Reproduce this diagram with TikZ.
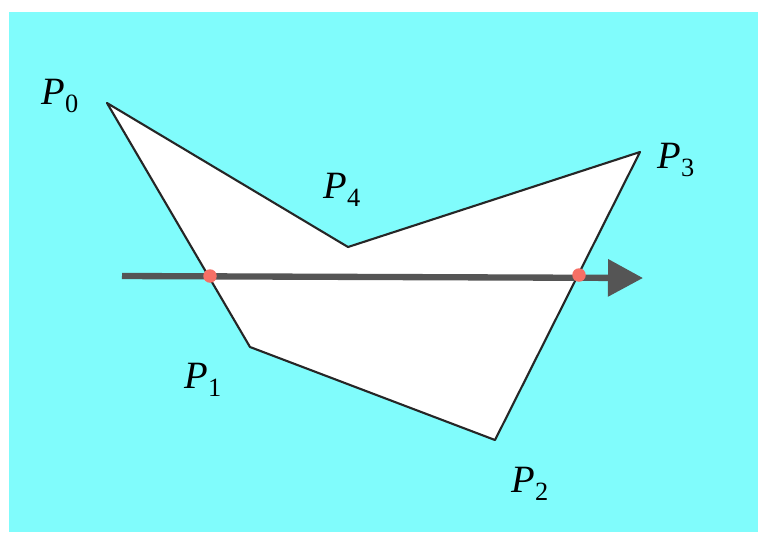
\documentclass[tikz,border=0pt]{standalone}
\usepackage{fontspec}
\setmainfont{Liberation Serif}
\usepackage{tikz}
\usetikzlibrary{arrows.meta}
\definecolor{bgcyan}{RGB}{128,252,252}
\definecolor{raygray}{RGB}{85,85,85}
\definecolor{hitred}{RGB}{246,112,102}
\newcommand{\vlabel}[1]{\textit{P}\raisebox{-0.45ex}{\fontsize{15}{17}\selectfont #1}}

\begin{document}
\begin{tikzpicture}[
    x=0.02cm, y=-0.02cm,
    vertex/.style={inner sep=0pt, font=\fontsize{22}{26}\selectfont},
    polygon/.style={draw=black!85, fill=white, line width=1.2pt, line join=round},
    ray/.style={draw=raygray, line width=3.6pt, -{Triangle[length=0.7cm, width=0.72cm]}},
    hit/.style={circle, fill=hitred, inner sep=0pt, minimum size=0.27cm}
]
\useasboundingbox (0,0) rectangle (758,532);
\fill[white] (0,0) rectangle (758,532);
\fill[bgcyan] (9,12) rectangle (758,532);

\coordinate (p0) at (107,103);
\coordinate (p1) at (250,347);
\coordinate (p2) at (495,440);
\coordinate (p3) at (640,152);
\coordinate (p4) at (348,247);
\coordinate (raystart) at (122,276);
\coordinate (rayend) at (643,278);

\draw[polygon] (p0) -- (p1) -- (p2) -- (p3) -- (p4) -- cycle;
\draw[ray] (raystart) -- (rayend);

\node[hit] (hitA) at (210,276) {};
\node[hit] (hitB) at (579,275) {};

\node[vertex] (label0) at (60,96) {\vlabel{0}};
\node[vertex] (label1) at (203,380) {\vlabel{1}};
\node[vertex] (label2) at (530,484) {\vlabel{2}};
\node[vertex] (label3) at (676,160) {\vlabel{3}};
\node[vertex] (label4) at (342,190) {\vlabel{4}};
\end{tikzpicture}
\end{document}
